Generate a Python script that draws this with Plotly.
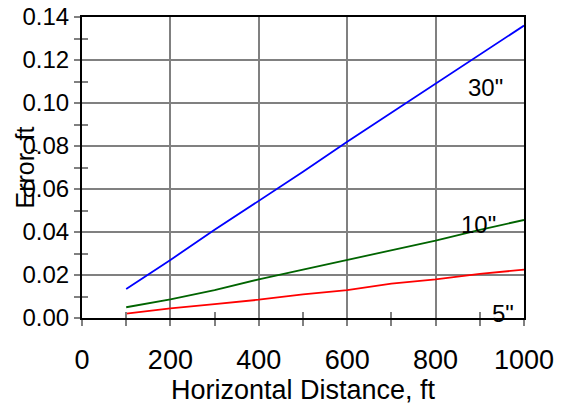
import plotly.graph_objects as go

distance = [100, 200, 300, 400, 500, 600, 700, 800, 900, 1000]
err_30 = [0.0135, 0.027, 0.041, 0.0545, 0.068, 0.082, 0.0955, 0.109, 0.1225, 0.136]
err_10 = [0.005, 0.0087, 0.013, 0.018, 0.0225, 0.027, 0.0315, 0.036, 0.041, 0.0456]
err_5 = [0.002, 0.0045, 0.0065, 0.0085, 0.011, 0.013, 0.016, 0.018, 0.0205, 0.0225]
series_names = ['30"', '10"', '5"']
label_x = [914, 896, 952]
label_y = [0.107, 0.0437, 0.0023]

FONT = "Liberation Sans, Arial, sans-serif"
fig = go.Figure()
for ys, col, name in [(err_30, "#0000FF", series_names[0]),
                      (err_10, "#006400", series_names[1]),
                      (err_5, "#FF0000", series_names[2])]:
    fig.add_trace(go.Scatter(x=distance, y=ys, mode="lines", name=name,
                             line=dict(color=col, width=1.8), showlegend=False))

for name, lx, ly in zip(series_names, label_x, label_y):
    fig.add_annotation(x=lx, y=ly, text=name, showarrow=False,
                       font=dict(size=24, color="black", family=FONT))

fig.add_annotation(xref="paper", yref="paper", x=-0.129, y=0.5, text="Error, ft",
                   textangle=-90, showarrow=False, xanchor="center", yanchor="middle",
                   font=dict(size=25, color="black", family=FONT))

grid = "#808080"
fig.update_layout(
    width=574, height=406,
    margin=dict(l=82, r=50, t=17, b=88, autoexpand=False),
    paper_bgcolor="white", plot_bgcolor="white",
    font=dict(family=FONT, size=24, color="black"),
    xaxis=dict(range=[0, 1000], tick0=0, dtick=200, showgrid=True, gridcolor=grid, gridwidth=1.5,
               ticks="outside", ticklen=6, tickcolor=grid, tickwidth=1.5,
               minor=dict(dtick=100, ticks="outside", ticklen=6, tickcolor=grid, tickwidth=1.5, showgrid=False),
               showline=True, linecolor="black", linewidth=2, mirror=True, zeroline=False,
               title=dict(text="Horizontal Distance, ft", font=dict(size=27), standoff=4),
               tickfont=dict(size=27), ticklabelstandoff=11, automargin=False,
               ticklabeloverflow="allow"),
    yaxis=dict(range=[0, 0.14], tick0=0, dtick=0.02, tickformat=".2f", showgrid=True, gridcolor=grid, gridwidth=1.5,
               ticks="outside", ticklen=6, tickcolor=grid, tickwidth=1.5,
               minor=dict(dtick=0.01, ticks="outside", ticklen=6, tickcolor=grid, tickwidth=1.5, showgrid=False),
               showline=True, linecolor="black", linewidth=2, mirror=True, zeroline=False,
               tickfont=dict(size=24), automargin=False, ticklabeloverflow="allow"),
    xaxis2=dict(range=[0, 1000], overlaying="x", dtick=100, tick0=0, ticks="inside", ticklen=6,
                tickcolor=grid, tickwidth=1.5, showticklabels=False, showgrid=False, zeroline=False,
                side="bottom", anchor="y"),
    yaxis2=dict(range=[0, 0.14], overlaying="y", dtick=0.01, tick0=0, ticks="inside", ticklen=6,
                tickcolor=grid, tickwidth=1.5, showticklabels=False, showgrid=False, zeroline=False,
                side="left", anchor="x"),
)
fig.add_trace(go.Scatter(x=[None], y=[None], xaxis="x2", yaxis="y2", showlegend=False, hoverinfo="skip"))

fig.write_html("out.html", config={"displayModeBar": False},
               post_script="document.body.style.margin='0';")
